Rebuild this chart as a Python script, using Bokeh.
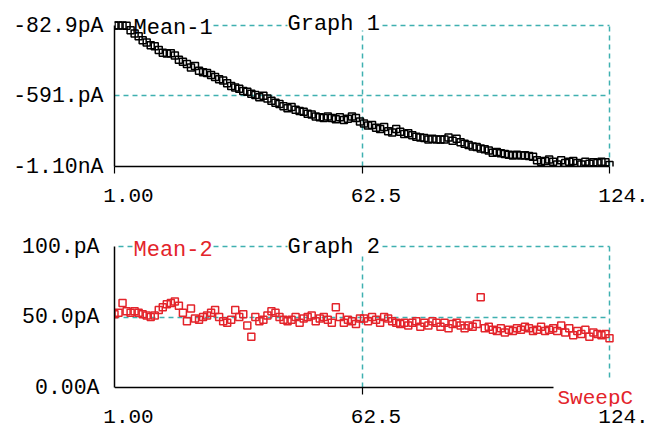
from bokeh.plotting import figure
from bokeh.layouts import column
from bokeh.models import Range1d, FixedTicker, LinearAxis, Grid, Label
from bokeh.embed import file_html
from bokeh.resources import INLINE

# ---------------- data ----------------
sweep = list(range(1, 125))

mean1_pA = [
    -83, -83, -83, -84, -118, -140, -160, -190, -205, -225,
    -232, -260, -280, -285, -283, -300, -330, -345, -360, -385,
    -375, -410, -420, -425, -440, -455, -470, -480, -500, -520,
    -530, -540, -555, -560, -575, -585, -600, -590, -610, -625,
    -640, -650, -665, -680, -670, -690, -700, -705, -720, -725,
    -740, -745, -750, -740, -750, -760, -745, -765, -755, -740,
    -750, -775, -790, -805, -800, -820, -830, -815, -845, -855,
    -830, -850, -865, -860, -875, -885, -890, -895, -905, -900,
    -905, -905, -905, -890, -915, -900, -925, -935, -945, -955,
    -960, -970, -975, -985, -1000, -995, -1005, -1010, -1015, -1020,
    -1015, -1020, -1018, -1025, -1030, -1055, -1065, -1060, -1050, -1065,
    -1085, -1055, -1075, -1065, -1060, -1075, -1085, -1065, -1080, -1070,
    -1075, -1065, -1070, -1090,
]

mean2_pA = [
    52, 53, 60, 54, 53, 54, 53, 52, 51, 50,
    51, 55, 57, 59, 60, 61, 58, 53, 47, 56,
    49, 48, 50, 51, 53, 55, 50, 47, 46, 48,
    55, 50, 52, 44, 36, 50, 47, 48, 51, 54,
    53, 50, 48, 47, 48, 50, 46, 49, 50, 51,
    47, 49, 50, 48, 46, 57, 50, 46, 48, 47,
    45, 49, 49, 47, 50, 48, 46, 50, 49, 47,
    46, 45, 46, 44, 46, 47, 43, 46, 44, 47,
    46, 43, 46, 42, 45, 46, 44, 42, 44, 43,
    45, 64, 42, 43, 41, 40, 42, 39, 41, 40,
    42, 41, 43, 42, 40, 41, 43, 40, 41, 42,
    40, 44, 39, 42, 37, 40, 38, 41, 36, 39,
    38, 37, 38, 35,
]

x_ticks = [1, 62.5, 124]
x_tick_labels = ["1.00", "62.5", "124."]
y1_ticks = [-1100, -591, -82.9]
y1_tick_labels = ["-1.10nA", "-591.pA", "-82.9pA"]
y2_ticks = [0, 50, 100]
y2_tick_labels = ["0.00A", "50.0pA", "100.pA"]

# ---------------- style ----------------
FONT = "Liberation Mono"
TEAL = "#3fb0b0"
RED = "#e3242b"
BLACK = "#000000"
DASH = "5 4"

W = 657
FRAME_L = 114
FRAME_R = 648                               # frame runs past 124 (invisible)
PX_PER_X = 495 / 123.0                      # pixels per sweep unit
LABEL_SHIFT = 14 / PX_PER_X                 # x tick labels sit right of their ticks


def xd(px):
    """picture pixel -> sweep data coordinate"""
    return 1 + (px - FRAME_L) / PX_PER_X


X_END = xd(FRAME_R)


def make_panel(height, border_top, border_bottom, y_start, y_end,
               y_lo, y_hi, yt, ytl, y_standoff, lab_standoff):
    p = figure(width=W, height=height, output_backend="svg",
               toolbar_location=None, tools="",
               x_range=Range1d(1, X_END), y_range=Range1d(y_start, y_end),
               min_border_left=FRAME_L, min_border_right=W - FRAME_R,
               min_border_top=border_top, min_border_bottom=border_bottom)
    p.outline_line_color = None
    p.background_fill_color = "white"
    p.border_fill_color = "white"
    p.xgrid.visible = False
    p.ygrid.visible = False

    # x axis carrying only the labels (shifted range)
    p.extra_x_ranges = {"lab": Range1d(1 - LABEL_SHIFT, X_END - LABEL_SHIFT)}
    xl = LinearAxis(x_range_name="lab", ticker=FixedTicker(ticks=x_ticks))
    xl.major_label_overrides = dict(zip(x_ticks, x_tick_labels))
    xl.axis_line_color = None
    xl.major_tick_line_color = None
    xl.minor_tick_line_color = None
    xl.major_tick_out = 0
    xl.major_tick_in = 0
    xl.minor_tick_out = 0
    xl.major_label_standoff = lab_standoff
    xl.major_label_text_font = FONT
    xl.major_label_text_font_size = "21px"
    xl.major_label_text_color = BLACK
    p.add_layout(xl, "below")

    ya = p.yaxis[0]
    ya.ticker = FixedTicker(ticks=yt)
    ya.major_label_overrides = dict(zip(yt, ytl))
    ya.bounds = (y_lo, y_hi)
    ya.axis_line_color = BLACK
    ya.axis_line_width = 1.5
    ya.major_tick_line_color = None
    ya.minor_tick_line_color = None
    ya.major_tick_out = 0
    ya.major_tick_in = 0
    ya.major_label_standoff = y_standoff
    ya.major_label_text_font = FONT
    ya.major_label_text_font_size = "21.5px"
    ya.major_label_text_color = BLACK
    return p


def add_grid(p, dim, ticks, cross, color=TEAL, dash=DASH, width=1.5):
    g = Grid(dimension=dim, ticker=FixedTicker(ticks=list(ticks)),
             cross_bounds=cross, grid_line_color=color,
             grid_line_dash=dash, grid_line_width=width)
    p.add_layout(g)


def add_text(p, x, y, text, color, size="22px"):
    p.add_layout(Label(x=x, y=y, text=text, text_font=FONT,
                       text_font_size=size, text_color=color,
                       text_align="left", text_baseline="alphabetic"))


# ---------------- Graph 1 ----------------
s1 = 141 / (y1_ticks[-1] - y1_ticks[0])     # px per pA
p1 = make_panel(216, 4, 50, y1_ticks[0], y1_ticks[-1] + 21 / s1,
                y1_ticks[0], y1_ticks[-1], y1_ticks, y1_tick_labels, 11, 15)

# x axis with the line and (minor) ticks, no labels
xa = p1.xaxis[0]
xa.ticker = FixedTicker(ticks=[], minor_ticks=x_ticks)
xa.bounds = (1, 124)
xa.axis_line_color = BLACK
xa.axis_line_width = 1.5
xa.major_tick_line_color = None
xa.major_tick_out = 0
xa.major_tick_in = 0
xa.minor_tick_line_color = BLACK
xa.minor_tick_line_width = 1.2
xa.minor_tick_out = 7
xa.minor_tick_in = 0
xa.major_label_standoff = 0

add_grid(p1, 1, [y1_ticks[1]], (1, 124))
add_grid(p1, 1, [y1_ticks[2]], (xd(213), xd(287)))
add_grid(p1, 1, [y1_ticks[2]], (xd(382), 124))
add_grid(p1, 0, [x_ticks[1]], (y1_ticks[0], y1_ticks[2] - 5 / s1))
add_grid(p1, 0, [x_ticks[2]], (y1_ticks[0], y1_ticks[2]))

p1.scatter(sweep, mean1_pA, marker="square", size=7, fill_color=None,
           line_color=BLACK, line_width=1.5)

add_text(p1, xd(133), y1_ticks[2] - 3 / s1, "Mean-1", BLACK)
add_text(p1, xd(287), y1_ticks[2] + 1 / s1, "Graph 1", BLACK)

# ---------------- Graph 2 ----------------
s2 = 141 / (y2_ticks[-1] - y2_ticks[0])
p2 = make_panel(214, 10, 24, y2_ticks[0] - 19 / s2, y2_ticks[-1] + 20 / s2,
                y2_ticks[0], y2_ticks[-1], y2_ticks, y2_tick_labels, 15, 3)
p2.xaxis[0].visible = False

add_grid(p2, 1, [y2_ticks[1]], (1, 124))
add_grid(p2, 1, [y2_ticks[2]], (xd(118), xd(133)))
add_grid(p2, 1, [y2_ticks[2]], (xd(213), xd(287)))
add_grid(p2, 1, [y2_ticks[2]], (xd(382), 124))
add_grid(p2, 0, [x_ticks[1]], (y2_ticks[0], y2_ticks[2] - 6 / s2))
add_grid(p2, 0, [x_ticks[2]], (y2_ticks[0] + 10 / s2, y2_ticks[2]))
# x axis line (stops short of the sweep label) and its ticks
add_grid(p2, 1, [y2_ticks[0]], (1, xd(553)), BLACK, "solid", 1.5)
add_grid(p2, 0, x_ticks[:2], (y2_ticks[0] - 7 / s2, y2_ticks[0]), BLACK, "solid", 1.2)

p2.scatter(sweep, mean2_pA, marker="square", size=7, fill_color=None,
           line_color=RED, line_width=1.5)

add_text(p2, xd(133), y2_ticks[2] - 4 / s2, "Mean-2", RED)
add_text(p2, xd(287), y2_ticks[2] - 1 / s2, "Graph 2", BLACK)
add_text(p2, xd(557), y2_ticks[0] - 11 / s2, "SweepC", RED, "21px")

layout = column(p1, p2, spacing=0)
open("out.html", "w").write(file_html(layout, INLINE))
